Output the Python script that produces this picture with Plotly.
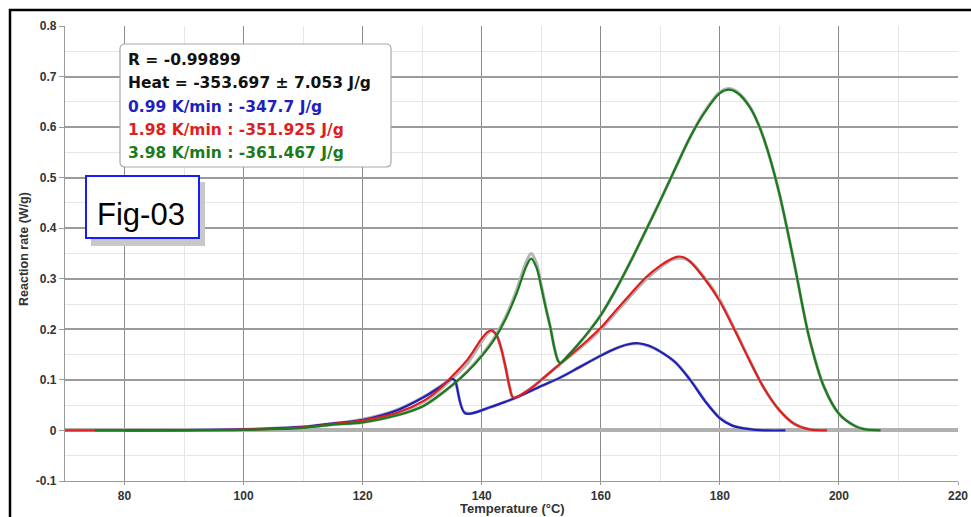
import plotly.graph_objects as go

# ---------------- data ----------------
series_names = ["0.99 K/min", "1.98 K/min", "3.98 K/min"]
series_colors = ["#1f1fbf", "#e01e1e", "#1b7a1b"]

blue_T = [80, 90, 100, 105, 110, 114.5, 120, 125.8, 130.3, 133, 135, 135.5, 137.2, 141.4, 143.1,
          145.4, 150, 153.1, 156.4, 160, 162.5, 164.5, 166.3, 168, 170, 172.5, 175, 177.5, 180,
          182, 184, 186, 188, 191]
blue_y = [0, 0.0005, 0.002, 0.004, 0.007, 0.013, 0.021, 0.040, 0.066, 0.086, 0.102, 0.099, 0.034,
          0.046, 0.053, 0.063, 0.088, 0.104, 0.125, 0.148, 0.162, 0.170, 0.1725, 0.168, 0.156,
          0.135, 0.100, 0.058, 0.024, 0.010, 0.004, 0.001, 0, 0]

red_T = [70, 90, 100, 110, 114.5, 120, 125.8, 130.3, 132.5, 134.6, 137.6, 140, 141, 141.7, 142.5,
         143.2, 144.0, 144.7, 145.3, 148, 150, 153.1, 156.4, 158, 160, 162.5, 165, 167.5, 170, 172,
         173, 174, 175, 177.5, 180, 182.5, 185, 187.5, 190, 192.5, 195, 198]
red_y = [0, 0.0004, 0.0015, 0.006, 0.012, 0.020, 0.035, 0.059, 0.078, 0.102, 0.140, 0.182, 0.195,
         0.198, 0.188, 0.165, 0.125, 0.085, 0.065, 0.081, 0.100, 0.131, 0.164, 0.181, 0.203, 0.237,
         0.270, 0.302, 0.326, 0.340, 0.344, 0.342, 0.334, 0.299, 0.255, 0.198, 0.138, 0.082, 0.040,
         0.013, 0.002, 0]

green_T = [75, 90, 100, 110, 114.5, 120, 125.8, 130.3, 135, 137.5, 140, 142, 144, 145, 146, 146.8,
           147.5, 148.3, 149.2, 150.0, 150.8, 151.5, 152.2, 152.8, 153.2, 154.5, 156.4, 158, 160,
           162.5, 165, 167.5, 170, 172.5, 175, 177.5, 180, 181.5, 183, 185, 186.5, 188, 190, 192.5,
           195, 197.5, 200, 202.5, 204, 207]
green_y = [0, 0.0003, 0.0012, 0.005, 0.011, 0.016, 0.030, 0.049, 0.089, 0.115, 0.147, 0.178, 0.220,
           0.246, 0.275, 0.303, 0.325, 0.340, 0.322, 0.283, 0.240, 0.205, 0.163, 0.138, 0.133, 0.148,
           0.173, 0.196, 0.228, 0.278, 0.334, 0.394, 0.455, 0.518, 0.580, 0.630, 0.667, 0.674, 0.667,
           0.640, 0.605, 0.555, 0.468, 0.330, 0.184, 0.086, 0.033, 0.010, 0.003, 0]

# simulated (fit) curves, thin grey
blue_sim_y = [0, 0.0005, 0.002, 0.004, 0.007, 0.013, 0.022, 0.041, 0.067, 0.087, 0.101, 0.098, 0.035,
              0.046, 0.053, 0.063, 0.088, 0.104, 0.125, 0.148, 0.162, 0.170, 0.1715, 0.167, 0.156,
              0.135, 0.101, 0.059, 0.025, 0.010, 0.004, 0.001, 0, 0]
red_sim_y = [0, 0.0004, 0.0015, 0.006, 0.012, 0.020, 0.034, 0.057, 0.075, 0.098, 0.133, 0.176, 0.192,
             0.197, 0.188, 0.165, 0.125, 0.085, 0.065, 0.081, 0.100, 0.131, 0.162, 0.178, 0.200, 0.233,
             0.266, 0.298, 0.323, 0.338, 0.341, 0.340, 0.334, 0.301, 0.258, 0.200, 0.139, 0.082, 0.040,
             0.013, 0.002, 0]
green_sim_y = [0, 0.0003, 0.0012, 0.005, 0.011, 0.016, 0.030, 0.049, 0.089, 0.116, 0.149, 0.181,
               0.224, 0.251, 0.282, 0.311, 0.334, 0.350, 0.330, 0.287, 0.242, 0.206, 0.164, 0.139,
               0.134, 0.148, 0.173, 0.196, 0.228, 0.278, 0.334, 0.394, 0.455, 0.518, 0.580, 0.632,
               0.669, 0.676, 0.669, 0.641, 0.605, 0.555, 0.468, 0.330, 0.184, 0.086, 0.033, 0.010,
               0.003, 0]

legend_lines = ["R = -0.99899", "Heat = -353.697 \u00b1 7.053 J/g",
                "0.99 K/min : -347.7 J/g", "1.98 K/min : -351.925 J/g", "3.98 K/min : -361.467 J/g"]
legend_colors = ["#111111", "#111111", "#1f1fbf", "#e01e1e", "#1b7a1b"]

x_range = [70, 220]
y_tickvals = [-0.1, 0, 0.1, 0.2, 0.3, 0.4, 0.5, 0.6, 0.7, 0.8]
y_ticktext = ["-0.1", "0", "0.1", "0.2", "0.3", "0.4", "0.5", "0.6", "0.7", "0.8"]
x_title = "Temperature (\u00b0C)"
y_title = "Reaction rate (W/g)"
fig_label = "Fig-03"

# ---------------- figure ----------------
W, H = 971, 517
L, R, T, B = 65, 13, 26, 36
PW, PH = W - L - R, H - T - B


def px(x):
    return (x - L) / PW


def py(y):
    return (H - B - y) / PH


fig = go.Figure()

sims = [(blue_T, blue_sim_y), (red_T, red_sim_y), (green_T, green_sim_y)]
exps = [(blue_T, blue_y), (red_T, red_y), (green_T, green_y)]

for (tx, ty) in sims:
    fig.add_trace(go.Scatter(x=tx, y=ty, mode="lines",
                             line=dict(color="#b4b4b4", width=3.2, shape="spline", smoothing=0.9),
                             hoverinfo="skip", showlegend=False))
for (tx, ty), name, col in zip(exps, series_names, series_colors):
    fig.add_trace(go.Scatter(x=tx, y=ty, mode="lines", name=name,
                             line=dict(color=col, width=2.2, shape="spline", smoothing=0.9),
                             showlegend=False))

tick_font = dict(family="Liberation Sans, Arial, sans-serif", size=12, color="#333333", weight="bold")

fig.update_layout(
    width=W, height=H,
    margin=dict(l=L, r=R, t=T, b=B, autoexpand=False),
    paper_bgcolor="white", plot_bgcolor="white",
    showlegend=False,
    xaxis=dict(range=x_range, tick0=0, dtick=20, showgrid=True, gridcolor="#8a8a8a", gridwidth=1.2,
               minor=dict(dtick=10, showgrid=True, gridcolor="#e6e6e6", gridwidth=1),
               showline=True, linecolor="#9a9a9a", linewidth=1.2,
               ticks="outside", ticklen=3, tickcolor="#9a9a9a", automargin=False,
               tickfont=tick_font, zeroline=False),
    yaxis=dict(range=[-0.1, 0.8], tickvals=y_tickvals, ticktext=y_ticktext,
               showgrid=True, gridcolor="#9a9a9a", gridwidth=1.5,
               minor=dict(tickvals=[-0.05, 0.05, 0.15, 0.25, 0.35, 0.45, 0.55, 0.65, 0.75],
                          showgrid=True, gridcolor="#e6e6e6", gridwidth=1),
               showline=True, linecolor="#9a9a9a", linewidth=1.2,
               ticks="outside", ticklen=5, tickcolor="#9a9a9a", automargin=False,
               tickfont=tick_font,
               zeroline=True, zerolinecolor="#b0b0b0", zerolinewidth=3.5),
)

shapes = []
# outer black frame
shapes.append(dict(type="rect", xref="paper", yref="paper",
                   x0=px(10), x1=px(990), y0=py(530), y1=py(10),
                   line=dict(color="black", width=2.5), fillcolor="rgba(0,0,0,0)", layer="above"))
# legend box (rounded)
x0, x1, y0, y1 = px(120), px(391), py(167), py(44)
rx, ry = 5 / PW, 5 / PH
path = (f"M {x0+rx},{y1} L {x1-rx},{y1} Q {x1},{y1} {x1},{y1-ry} L {x1},{y0+ry} "
        f"Q {x1},{y0} {x1-rx},{y0} L {x0+rx},{y0} Q {x0},{y0} {x0},{y0+ry} "
        f"L {x0},{y1-ry} Q {x0},{y1} {x0+rx},{y1} Z")
shapes.append(dict(type="path", xref="paper", yref="paper", path=path,
                   line=dict(color="#a8a8a8", width=1.2), fillcolor="white", layer="above"))
# Fig label shadow + box
shapes.append(dict(type="rect", xref="paper", yref="paper",
                   x0=px(91), x1=px(205), y0=py(246), y1=py(182),
                   line=dict(width=0), fillcolor="#c8c8c8", layer="above"))
shapes.append(dict(type="rect", xref="paper", yref="paper",
                   x0=px(86), x1=px(199), y0=py(238), y1=py(176),
                   line=dict(color="#1a1aff", width=2), fillcolor="white", layer="above"))
fig.update_layout(shapes=shapes)

annotations = []
legend_y = [60, 83, 106.5, 130, 153]
for txt, col, yy in zip(legend_lines, legend_colors, legend_y):
    annotations.append(dict(x=px(126), y=py(yy), xref="paper", yref="paper", text=txt,
                            showarrow=False, xanchor="left", yanchor="middle",
                            font=dict(family="DejaVu Sans, sans-serif", size=15.5, color=col,
                                      weight="bold")))
annotations.append(dict(x=px(141), y=py(214), xref="paper", yref="paper", text=fig_label,
                        showarrow=False, xanchor="center", yanchor="middle",
                        font=dict(family="Liberation Sans, Arial, sans-serif", size=31, color="black")))
annotations.append(dict(x=px(512), y=py(508), xref="paper", yref="paper", text=x_title,
                        showarrow=False, xanchor="center", yanchor="middle",
                        font=dict(family="Liberation Sans, Arial, sans-serif", size=13,
                                  color="#333333", weight="bold")))
annotations.append(dict(x=px(24), y=py(249), xref="paper", yref="paper", text=y_title,
                        showarrow=False, xanchor="center", yanchor="middle", textangle=-90,
                        font=dict(family="Liberation Sans, Arial, sans-serif", size=12.5,
                                  color="#333333", weight="bold")))
fig.update_layout(annotations=annotations)

fig.write_html("out.html", config={"displayModeBar": False},
               post_script="document.body.style.margin='0';document.body.style.overflow='hidden';")
